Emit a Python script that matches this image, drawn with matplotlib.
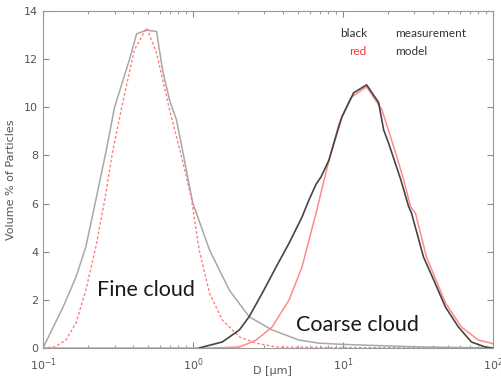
import matplotlib
matplotlib.use("Agg")
import matplotlib.pyplot as plt

# fine cloud, measurement (grey) and model (red dashed)
fine_meas_d = [0.1, 0.136, 0.166, 0.193, 0.225, 0.264, 0.30, 0.378, 0.421, 0.491, 0.572, 0.583,
               0.627, 0.698, 0.777, 0.878, 0.948, 1.0, 1.29, 1.75, 2.37, 3.37, 5.1, 6.93, 10, 30, 100]
fine_meas_v = [0.0, 1.7, 2.95, 4.2, 6.15, 8.2, 10.0, 12.0, 13.05, 13.2, 13.15, 12.8,
               11.55, 10.3, 9.47, 7.8, 6.7, 6.0, 4.07, 2.4, 1.3, 0.75, 0.33, 0.2, 0.15, 0.05, 0.0]

fine_model_d = [0.1, 0.12, 0.142, 0.166, 0.193, 0.225, 0.258, 0.292, 0.335, 0.378, 0.408, 0.491,
                0.572, 0.698, 0.851, 0.977, 1.10, 1.29, 1.57, 2.04, 2.64, 3.59, 10, 100]
fine_model_v = [0.0, 0.05, 0.33, 1.04, 2.4, 4.2, 6.15, 8.2, 10.0, 11.5, 12.4, 13.3,
                12.25, 9.9, 7.8, 6.2, 4.07, 2.28, 1.16, 0.46, 0.2, 0.04, 0.02, 0.0]

# coarse cloud, measurement (dark) and model (red)
coarse_meas_d = [1.10, 1.16, 1.57, 2.04, 2.37, 2.90, 3.59, 4.38, 5.34, 5.94, 6.62, 7.14, 8.07, 8.71,
                 9.85, 11.8, 14.4, 17.3, 18.7, 20.2, 24.3, 27.5, 28.7, 34.5, 40.3, 48.3, 59.0,
                 72.0, 89.2, 100]
coarse_meas_v = [0.0, 0.04, 0.25, 0.75, 1.3, 2.28, 3.37, 4.36, 5.44, 6.15, 6.8, 7.1, 7.8, 8.5,
                 9.6, 10.6, 10.93, 10.2, 9.06, 8.5, 7.0, 5.86, 5.6, 3.78, 2.83, 1.7, 0.87,
                 0.25, 0.04, 0.0]

coarse_model_d = [0.1, 1.3, 2.04, 2.64, 3.37, 4.38, 5.34, 6.62, 8.07, 9.4, 11.3, 14.4, 18.2, 22.5,
                  25.4, 28.3, 30.5, 36.1, 48.3, 61.8, 80.1, 97.7, 100]
coarse_model_v = [0.0, 0.0, 0.04, 0.33, 0.87, 2.0, 3.37, 5.6, 7.8, 9.3, 10.4, 10.85, 9.9, 8.1,
                  7.0, 5.86, 5.6, 3.78, 1.87, 0.87, 0.33, 0.2, 0.18]

grey_txt = "#555555"
plt.rcParams["mathtext.default"] = "regular"

fig = plt.figure(figsize=(5.02, 3.80), dpi=100)
ax = fig.add_axes([0.0857, 0.0842, 0.896, 0.887])

ax.plot(fine_meas_d, fine_meas_v, color="#a8a8a8", lw=1.1)
ax.plot(fine_model_d, fine_model_v, color="#ff8080", lw=1.0, ls=(0, (2, 1.5)))
ax.plot(coarse_model_d, coarse_model_v, color="#ff8a8a", lw=1.1)
ax.plot(coarse_meas_d, coarse_meas_v, color="#454545", lw=1.2)

ax.set_xscale("log")
ax.set_xlim(0.1, 100)
ax.set_ylim(0, 14)
ax.set_yticks(range(0, 15, 2))

ax.tick_params(which="both", direction="in", top=True, right=True, colors="#888888",
               labelcolor=grey_txt, labelsize=8)
ax.tick_params(which="major", length=4)
ax.tick_params(which="minor", length=2.5)
ax.tick_params(axis="x", pad=6)
for s in ax.spines.values():
    s.set_color("#999999")

ax.set_xlabel("D [\u03bcm]", fontsize=8, color=grey_txt)
ax.xaxis.set_label_coords(0.509, -0.054)
ax.set_ylabel("Volume % of Particles", fontsize=8, color=grey_txt, labelpad=6)

ax.text(0.229, 2.4, "Fine cloud", fontsize=15.5, family="Lato", ha="left", va="center", color="#1a1a1a")
ax.text(4.88, 0.96, "Coarse cloud", fontsize=15.5, family="Lato", ha="left", va="center", color="#1a1a1a")

ax.text(0.72, 0.932, "black", transform=ax.transAxes, fontsize=8.5, family="Lato", ha="right", va="center", color="#333333")
ax.text(0.782, 0.932, "measurement", transform=ax.transAxes, fontsize=8.5, family="Lato", ha="left", va="center", color="#333333")
ax.text(0.72, 0.881, "red", transform=ax.transAxes, fontsize=8.5, family="Lato", ha="right", va="center", color="#ff3030")
ax.text(0.782, 0.881, "model", transform=ax.transAxes, fontsize=8.5, family="Lato", ha="left", va="center", color="#333333")

fig.savefig("out.png", dpi=100)
